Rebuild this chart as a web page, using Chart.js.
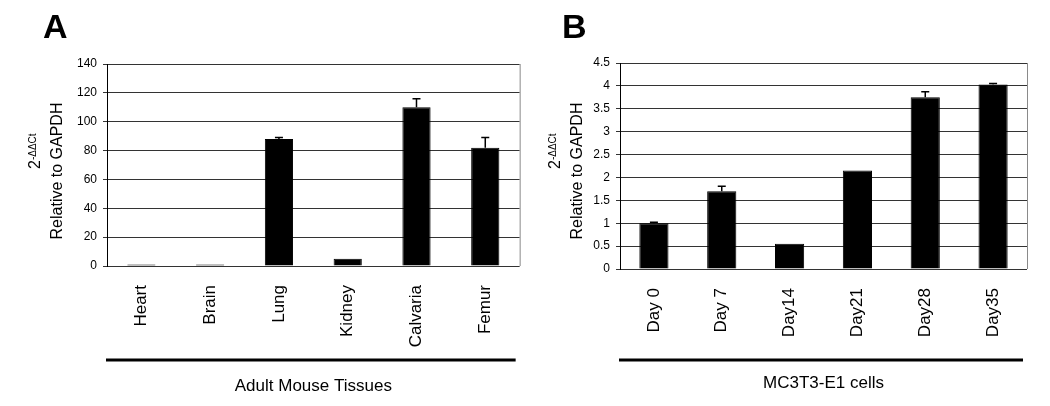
<!DOCTYPE html>
<html>
<head>
<meta charset="utf-8">
<script src="https://cdn.jsdelivr.net/npm/chart.js@4/dist/chart.umd.min.js"></script>
<style>
  body { margin: 0; background: #fff; }
  .panel { display: inline-block; width: 525px; height: 406px; vertical-align: top; }
  #wrap { width: 1050px; height: 406px; white-space: nowrap; font-size: 0; }
</style>
</head>
<body>
<div id="wrap">
  <div class="panel"><canvas id="chartA" width="525" height="406"></canvas></div>
  <div class="panel"><canvas id="chartB" width="525" height="406"></canvas></div>
</div>
<script>
// panel A - adult mouse tissues
var tissueLabels = ['Heart', 'Brain', 'Lung', 'Kidney', 'Calvaria', 'Femur'];
var tissueValues = [1, 1, 88, 5, 110, 82];
var tissueErrors = [0, 0, 1, 0, 6, 7];
var tissueAxis = [0, 140, 20]; // min, max, step

// panel B - MC3T3-E1 time course
var dayLabels = ['Day 0', 'Day 7', 'Day14', 'Day21', 'Day28', 'Day35'];
var dayValues = [1.0, 1.7, 0.55, 2.15, 3.75, 4.03];
var dayErrors = [0.02, 0.11, 0, 0, 0.12, 0.02];
var dayAxis = [0, 4.5, 0.5];

var FONT = "'Liberation Sans', Arial, sans-serif";
Chart.defaults.color = '#000';
Chart.defaults.font.family = FONT;

// error bars (upper only), frame edge, bottom rule, panel letter and y title
var decorPlugin = {
    id: 'decor',
    afterDatasetsDraw: function(chart, args, opts) {
        var ctx = chart.ctx;
        var y = chart.scales.y;
        var meta = chart.getDatasetMeta(0);
        var vals = chart.data.datasets[0].data;
        ctx.save();
        ctx.strokeStyle = '#000';
        ctx.lineWidth = 1.5;
        meta.data.forEach(function(bar, i) {
            var e = opts.errors[i];
            if (!e) return;
            var top = y.getPixelForValue(vals[i] + e);
            ctx.beginPath();
            ctx.moveTo(bar.x, bar.y);
            ctx.lineTo(bar.x, top);
            ctx.moveTo(bar.x - 4, top);
            ctx.lineTo(bar.x + 4, top);
            ctx.stroke();
        });
        ctx.restore();
    },
    afterDraw: function(chart, args, opts) {
        var ctx = chart.ctx;
        var a = chart.chartArea;
        ctx.save();
        // right edge of plot box
        ctx.strokeStyle = '#8a8a8a';
        ctx.lineWidth = 1;
        ctx.beginPath();
        ctx.moveTo(a.right + 0.5, a.top);
        ctx.lineTo(a.right + 0.5, a.bottom);
        ctx.stroke();
        // thick rule above the axis title
        ctx.strokeStyle = '#000';
        ctx.lineWidth = 3;
        ctx.beginPath();
        ctx.moveTo(a.left - 1, opts.ruleY);
        ctx.lineTo(a.right - 4, opts.ruleY);
        ctx.stroke();
        // panel letter
        ctx.fillStyle = '#000';
        ctx.font = 'bold 34px ' + FONT;
        ctx.textAlign = 'left';
        ctx.textBaseline = 'alphabetic';
        ctx.fillText(opts.letter, opts.letterX, 38);
        // y title line 2
        ctx.save();
        ctx.translate(a.left + opts.relOffset, 171);
        ctx.rotate(-Math.PI / 2);
        ctx.font = '16px ' + FONT;
        ctx.textAlign = 'center';
        ctx.textBaseline = 'middle';
        ctx.fillText('Relative to GAPDH', 0, 0);
        ctx.restore();
        // y title line 1: 2 with superscript
        ctx.save();
        ctx.translate(a.left + opts.powOffset, 169);
        ctx.rotate(-Math.PI / 2);
        ctx.textAlign = 'left';
        ctx.textBaseline = 'alphabetic';
        ctx.font = '16px ' + FONT;
        ctx.fillText('2', 0, 0);
        var w = ctx.measureText('2').width;
        ctx.font = '10px ' + FONT;
        ctx.fillText('-\u0394\u0394Ct', w, -4);
        ctx.restore();
        ctx.restore();
    }
};

function makeChart(id, labels, values, errors, axis, p) {
    return new Chart(document.getElementById(id), {
        type: 'bar',
        plugins: [decorPlugin],
        data: {
            labels: labels,
            datasets: [{
                data: values,
                backgroundColor: '#000',
                borderColor: '#000',
                borderWidth: 1,
                categoryPercentage: 1,
                barPercentage: p.barPct
            }]
        },
        options: {
            responsive: false,
            animation: false,
            events: [],
            layout: { padding: { top: p.top, right: p.right, left: 0, bottom: 0 } },
            plugins: {
                legend: { display: false },
                tooltip: { enabled: false },
                decor: {
                    errors: errors,
                    letter: p.letter,
                    letterX: p.letterX,
                    ruleY: 360,
                    relOffset: p.relOffset,
                    powOffset: p.powOffset
                }
            },
            scales: {
                x: {
                    grid: { display: false, drawTicks: false },
                    border: { display: false },
                    ticks: {
                        autoSkip: false,
                        minRotation: 90,
                        maxRotation: 90,
                        padding: 19,
                        font: { size: 17 }
                    },
                    title: {
                        display: true,
                        text: p.xTitle,
                        font: { size: 17 },
                        padding: { top: 0, bottom: p.titleBottom }
                    },
                    afterFit: function(s) { s.height = p.xHeight; }
                },
                y: {
                    min: axis[0],
                    max: axis[1],
                    ticks: {
                        stepSize: axis[2],
                        padding: 6,
                        font: { size: 12 },
                        callback: function(v) { return String(Math.round(v * 100) / 100); }
                    },
                    grid: { color: '#333', lineWidth: 1, tickLength: 4 },
                    border: { color: '#000', width: 1 },
                    afterFit: function(s) { s.width = p.yWidth; }
                }
            }
        }
    });
}

makeChart('chartA', tissueLabels, tissueValues, tissueErrors, tissueAxis, {
    barPct: 0.41, top: 64, right: 4, yWidth: 107, xHeight: 140,
    letter: 'A', letterX: 43, relOffset: -49.5, powOffset: -67.5,
    xTitle: 'Adult Mouse Tissues', titleBottom: 9
});

makeChart('chartB', dayLabels, dayValues, dayErrors, dayAxis, {
    barPct: 0.43, top: 63, right: 23, yWidth: 95, xHeight: 137,
    letter: 'B', letterX: 37, relOffset: -42.5, powOffset: -60,
    xTitle: 'MC3T3-E1 cells', titleBottom: 12
});
</script>
</body>
</html>
